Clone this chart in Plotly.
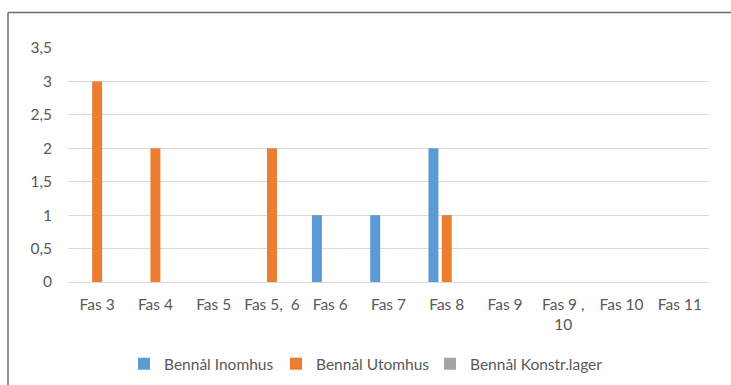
import plotly.graph_objects as go

# Phase categories along the x axis
categories = ["Fas 3", "Fas 4", "Fas 5", "Fas 5,\u00a0\u00a06", "Fas 6", "Fas 7",
              "Fas 8", "Fas 9", "Fas 9 ,<br>10", "Fas 10", "Fas 11"]

# Counts per series
inomhus = [0, 0, 0, 0, 1, 1, 2, 0, 0, 0, 0]
utomhus = [3, 2, 0, 2, 0, 0, 1, 0, 0, 0, 0]
konstr_lager = [0, 0, 0, 0, 0, 0, 0, 0, 0, 0, 0]

series_names = ["Bennål Inomhus", "Bennål Utomhus", "Bennål Konstr.lager"]
series_colors = ["#5B9BD5", "#ED7D31", "#A5A5A5"]
legend_ids = ["legend", "legend2", "legend3"]
legend_left_px = [124, 276, 430]

text_color = "#595959"
font_family = "Lato, Open Sans, sans-serif"
fsize = 15.5
plot_left, plot_width = 68, 641

fig = go.Figure()
for name, vals, color, lg in zip(series_names, [inomhus, utomhus, konstr_lager],
                                 series_colors, legend_ids):
    fig.add_trace(go.Bar(x=categories, y=vals, name=name, marker_color=color,
                         marker_line_width=0, legend=lg))

# Chart-area border (top and left edges visible)
fig.add_shape(type="line", xref="paper", yref="paper",
              x0=-0.0936, x1=1.04, y0=1.152, y1=1.152,
              line=dict(color="#6E6E6E", width=1.5))
fig.add_shape(type="line", xref="paper", yref="paper",
              x0=-0.0936, x1=-0.0936, y0=1.152, y1=-0.45,
              line=dict(color="#6E6E6E", width=1.5))

legend_style = dict(orientation="h", xanchor="left", y=-0.279, yanchor="top",
                    font=dict(size=fsize, color=text_color), itemwidth=30,
                    bgcolor="rgba(0,0,0,0)")

fig.update_layout(
    width=731, height=385,
    margin=dict(l=plot_left, r=22, t=48, b=103, autoexpand=False),
    paper_bgcolor="white", plot_bgcolor="white",
    barmode="group", bargap=0.314, bargroupgap=0.25,
    separators=", ",
    font=dict(family=font_family, size=fsize, color=text_color),
    showlegend=True,
    xaxis=dict(showgrid=False, showline=False, ticks="outside", ticklen=8,
               tickcolor="rgba(0,0,0,0)", tickfont=dict(size=fsize, color=text_color)),
    yaxis=dict(range=[0, 3.5], dtick=0.5, showgrid=True, gridcolor="#D9D9D9",
               gridwidth=1, zeroline=True, zerolinecolor="#D9D9D9", zerolinewidth=1,
               showline=False, ticks="outside", ticklen=12,
               tickcolor="rgba(0,0,0,0)", tickfont=dict(size=fsize, color=text_color)),
)
for lg, px in zip(legend_ids, legend_left_px):
    fig.update_layout({lg: dict(legend_style, x=(px - plot_left) / plot_width)})

fig.write_html("out.html")
